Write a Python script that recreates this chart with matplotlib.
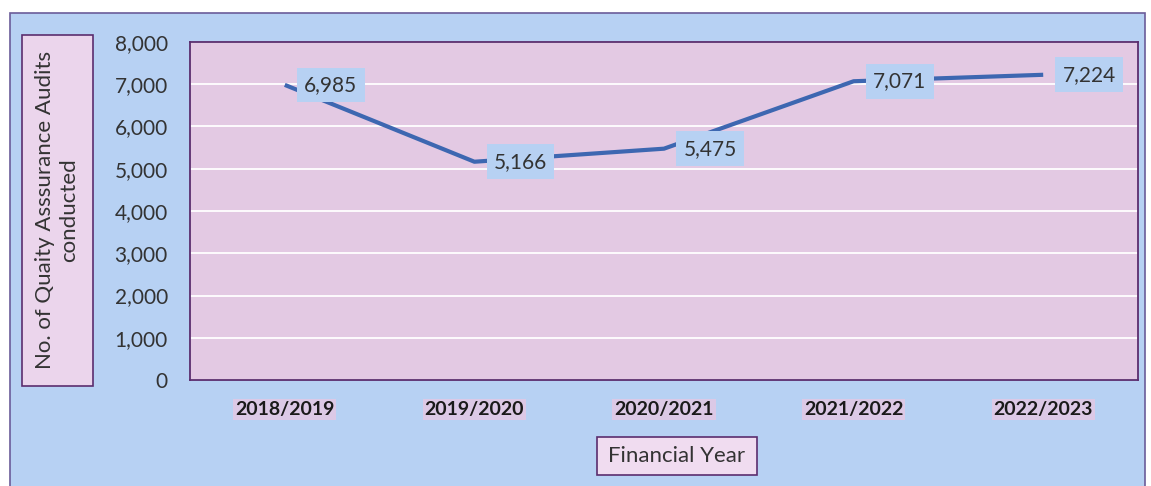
import matplotlib.pyplot as plt
from matplotlib.patches import Rectangle
from matplotlib.ticker import FuncFormatter

# datos
years = ['2018/2019', '2019/2020', '2020/2021', '2021/2022', '2022/2023']
audits = [6985, 5166, 5475, 7071, 7224]
y_ticks = [0, 1000, 2000, 3000, 4000, 5000, 6000, 7000, 8000]

bg_blue = '#b7d1f3'
plot_pink = '#e3c9e3'
line_blue = '#3d67b1'
border = '#5b2d6e'

plt.rcParams['font.family'] = ['Lato', 'DejaVu Sans']

W, H = 1151, 486
fig = plt.figure(figsize=(W / 100, H / 100), dpi=100, facecolor='white')


def caja(x0, y0, x1, y1, fc, ec, lw=1.2, z=-10):
    # rectángulo en píxeles (origen arriba a la izquierda)
    fig.patches.append(Rectangle((x0 / W, 1 - y1 / H), (x1 - x0) / W, (y1 - y0) / H,
                                 transform=fig.transFigure, facecolor=fc,
                                 edgecolor=ec, linewidth=lw, zorder=z))


# marco exterior
caja(10, 13, 1145, 487, bg_blue, '#6b5c99', 1.2, -20)

ax = fig.add_axes([190 / W, 1 - 380 / H, 948 / W, 338 / H])
ax.set_facecolor(plot_pink)
for s in ax.spines.values():
    s.set_color(border)
    s.set_linewidth(1.3)

x = list(range(len(years)))
ax.plot(x, audits, color=line_blue, linewidth=3.0, solid_capstyle='butt', zorder=3)

for xi, v in zip(x, audits):
    ax.annotate(f'{v:,}', (xi, v), xytext=(14, 0), textcoords='offset points',
                ha='left', va='center', fontsize=15, color='#333333', zorder=5,
                bbox=dict(boxstyle='square,pad=0.35', facecolor=bg_blue, edgecolor='none'))

ax.set_xlim(-0.5, len(years) - 0.5)
ax.set_ylim(0, 8000)
ax.set_yticks(y_ticks)
ax.yaxis.set_major_formatter(FuncFormatter(lambda v, p: f'{int(v):,}'))
ax.grid(axis='y', color='white', linewidth=1.3, zorder=1)
ax.set_axisbelow(True)
ax.tick_params(axis='both', length=0, labelsize=15, colors='#333333')
ax.tick_params(axis='y', pad=16)
ax.tick_params(axis='x', pad=15, labelsize=14)
ax.set_xticks(x)
ax.set_xticklabels(years, fontweight='bold', color='#1a1a1a')
for lab in ax.get_xticklabels():
    lab.set_bbox(dict(boxstyle='square,pad=0.1', facecolor='#dcc9e6', edgecolor='none'))

# etiquetas de ejes en cajas
caja(22, 35, 93, 386, '#ebd5ec', border, 1.2, -5)
fig.text(57 / W, 1 - 210 / H, 'No. of Quaity Asssurance Audits\nconducted',
         rotation=90, ha='center', va='center', fontsize=16, color='#333333',
         linespacing=1.3)
caja(597, 437, 757, 475, '#f0dcf0', border, 1.2, -5)
fig.text(677 / W, 1 - 456 / H, 'Financial Year', ha='center', va='center',
         fontsize=16, color='#333333')

fig.savefig('out.png', dpi=100, facecolor=fig.get_facecolor())
